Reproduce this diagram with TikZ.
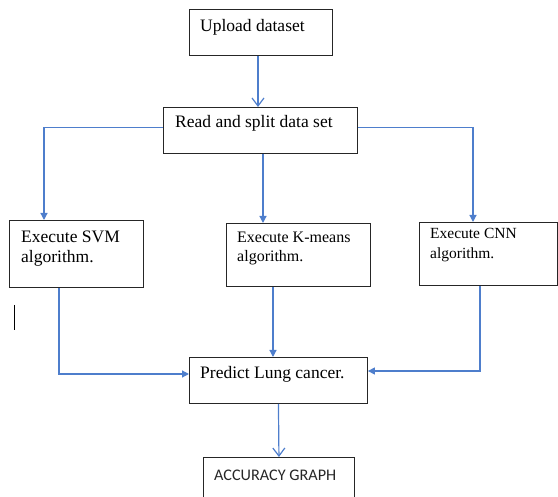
\documentclass[tikz,border=0pt]{standalone}
\usepackage{fontspec}
\setmainfont{Liberation Serif}
\newfontfamily\calibfont{Carlito}
\usetikzlibrary{arrows.meta,calc}
\definecolor{flowblue}{RGB}{78,126,204}
\begin{document}
\begin{tikzpicture}[x=1pt,y=-1pt,
  box/.style={draw=black!85,line width=0.9pt,anchor=north west,inner sep=0pt},
  txt/.style={anchor=base west,inner sep=0pt,font=\fontsize{17.5}{21}\selectfont},
  link/.style={draw=flowblue,line width=1.2pt},
  tri/.style={link,-{Triangle[length=7pt,width=7pt]}},
  barb/.style={link,-{Straight Barb[length=8pt,width=12pt]}}]
\useasboundingbox (0,0) rectangle (558,497);
\clip (0,0) rectangle (558,497);
% boxes
\node[box,minimum width=143pt,minimum height=46pt] (up) at (189,9) {};
\node[txt] (upt) at (200,32) {Upload dataset};
\node[box,minimum width=194pt,minimum height=46pt] (rd) at (163,107) {};
\node[txt] (rdt) at (175,128) {Read and split data set};
\node[box,minimum width=134pt,minimum height=67pt] (svm) at (9,220) {};
\node[txt] (svmt1) at (21,243) {Execute SVM};
\node[txt] (svmt2) at (21,263) {algorithm.};
\node[box,minimum width=144pt,minimum height=63pt] (km) at (226,223) {};
\node[txt,font=\fontsize{16}{19}\selectfont] (kmt1) at (237,243) {Execute K-means};
\node[txt,font=\fontsize{16}{19}\selectfont] (kmt2) at (237,262) {algorithm.};
\node[box,minimum width=138pt,minimum height=63pt] (cnn) at (419,222) {};
\node[txt,font=\fontsize{15.5}{19}\selectfont] (cnnt1) at (430,239) {Execute CNN};
\node[txt,font=\fontsize{15.5}{19}\selectfont] (cnnt2) at (430,259) {algorithm.};
\node[box,minimum width=178pt,minimum height=46pt] (pr) at (189,357) {};
\node[txt] (prt) at (200,379) {Predict Lung cancer.};
\node[box,minimum width=151pt,minimum height=45pt] (acc) at (203,457) {};
\node[txt,font=\calibfont\fontsize{16.2}{19}\selectfont,text=black!85] (acct) at (214,481) {ACCURACY GRAPH};
% connectors
\coordinate (upo) at ($(up.south west)+(69,0)$);
\draw[barb] (upo) -- (rd.north -| upo);
\coordinate (svmin) at ($(svm.north west)+(35,0)$);
\draw[tri] ([yshift=3pt]rd.west) -| (svmin);
\coordinate (kmin) at ($(km.north west)+(37,0)$);
\draw[tri] (rd.south -| kmin) -- (kmin);
\coordinate (cnnin) at ($(cnn.north west)+(54,0)$);
\draw[tri] ([yshift=3pt]rd.east) -| (cnnin);
\coordinate (svmout) at ($(svm.south west)+(50,0)$);
\coordinate (prl) at ($(pr.north west)+(0,17)$);
\draw[tri] (svmout) |- (prl);
\coordinate (kmout) at ($(km.south west)+(47,0)$);
\draw[tri] (kmout) -- (pr.north -| kmout);
\coordinate (cnnout) at ($(cnn.south west)+(61,0)$);
\coordinate (prr) at ($(pr.north east)+(0,14)$);
\draw[tri] (cnnout) |- (prr);
\draw[barb] (pr.south) -- (acc.north);
% stray cursor mark
\draw[black,line width=0.8pt] (14,305) -- (14,330);
\end{tikzpicture}
\end{document}
